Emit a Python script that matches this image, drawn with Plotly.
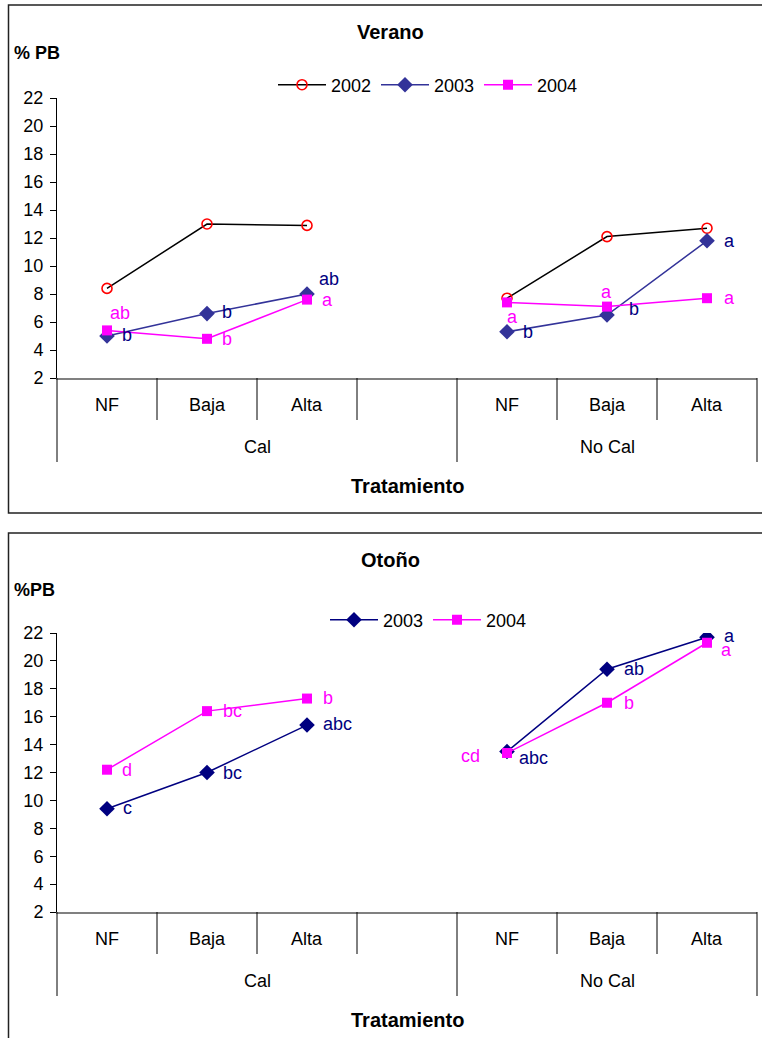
import plotly.graph_objects as go

# ---- data -------------------------------------------------------------
categories = ["NF", "Baja", "Alta", "", "NF", "Baja", "Alta"]
groups = ["Cal", "No Cal"]
group_spans = [(0, 4), (4, 7)]          # category slots covered by each group
y_ticks = [2, 4, 6, 8, 10, 12, 14, 16, 18, 20, 22]

verano_2002 = [8.4, 13.0, 12.9, None, 7.7, 12.1, 12.7]
verano_2003 = [5.0, 6.6, 8.0, None, 5.3, 6.5, 11.8]
verano_2004 = [5.4, 4.8, 7.6, None, 7.4, 7.1, 7.7]
verano_2003_letters = ["b", "b", "ab", None, "b", "b", "a"]
verano_2004_letters = ["ab", "b", "a", None, "a", "a", "a"]

otono_2003 = [9.4, 12.0, 15.4, None, 13.5, 19.4, 21.7]
otono_2004 = [12.2, 16.4, 17.3, None, 13.4, 17.0, 21.3]
otono_2003_letters = ["c", "bc", "abc", None, "abc", "ab", "a"]
otono_2004_letters = ["d", "bc", "b", None, "cd", "b", "a"]

# pixel offsets (dx, dy) of each letter from its marker
verano_2003_off = [(20, -1), (20, -2), (22, -15), None, (21, 0), (27, -6), (22, 0)]
verano_2004_off = [(13, -17), (20, 0), (20, 0), None, (5, 15), (-1, -15), (22, 0)]
otono_2003_off = [(20, -1), (25, 0), (30, -1), None, (26, 6), (27, 0), (22, -1)]
otono_2004_off = [(20, 0), (25, 0), (21, -1), None, (-37, 3), (22, 0), (19, 7)]

# ---- style ------------------------------------------------------------
W, H = 762, 1038
FONT = "Liberation Sans, Arial, sans-serif"
FS = 18
FS_TITLE = 20
NAVY = "#000080"
SLATE = "#333399"
MAGENTA = "#FF00FF"

# panel geometry in pixels
X_LEFT, X_RIGHT = 57, 757
TOP_Y0, TOP_Y1 = 98, 378
BOT_Y0, BOT_Y1 = 633, 912

x_pos = list(range(len(categories)))


def py(p):
    return 1 - p / H


fig = go.Figure()


def add_series(name, values, xa, ya, legend, color, marker, showlegend=True):
    fig.add_trace(go.Scatter(
        x=x_pos, y=values, name=name, mode="lines+markers",
        xaxis=xa, yaxis=ya, legend=legend, connectgaps=False,
        line=dict(color=color["line"], width=1.5),
        marker=marker, showlegend=showlegend, hoverinfo="skip",
    ))


circle = dict(symbol="circle-open", size=10, color="#FF0000",
              line=dict(color="#FF0000", width=1.6))
add_series("2002", verano_2002, "x", "y", "legend", {"line": "#000000"}, circle)
add_series("2003", verano_2003, "x", "y", "legend", {"line": SLATE},
           dict(symbol="diamond", size=12, color=SLATE))
add_series("2004", verano_2004, "x", "y", "legend", {"line": MAGENTA},
           dict(symbol="square", size=10, color=MAGENTA))

add_series("2003", otono_2003, "x2", "y2", "legend2", {"line": NAVY},
           dict(symbol="diamond", size=12, color=NAVY))
add_series("2004", otono_2004, "x2", "y2", "legend2", {"line": MAGENTA},
           dict(symbol="square", size=10, color=MAGENTA))

annotations = []
shapes = []


def letters(values, labels, offsets, color, xref, yref):
    for x, v, lab, off in zip(x_pos, values, labels, offsets):
        if lab is None:
            continue
        annotations.append(dict(
            x=x, y=v, xref=xref, yref=yref, text=lab, showarrow=False,
            xshift=off[0], yshift=-off[1], xanchor="center", yanchor="middle",
            font=dict(family=FONT, size=FS, color=color)))


letters(verano_2003, verano_2003_letters, verano_2003_off, NAVY, "x", "y")
letters(verano_2004, verano_2004_letters, verano_2004_off, MAGENTA, "x", "y")
letters(otono_2003, otono_2003_letters, otono_2003_off, NAVY, "x2", "y2")
letters(otono_2004, otono_2004_letters, otono_2004_off, MAGENTA, "x2", "y2")


def category_axis(xref, yref, plot_h, box_top, box_bottom, title, ylabel,
                  title_y, ylabel_y):
    n = len(categories)
    dom = lambda px: -px / plot_h
    # labels under each category slot
    for i, c in enumerate(categories):
        if c:
            annotations.append(dict(
                x=i, y=dom(27), xref=xref, yref=yref + " domain", text=c,
                showarrow=False, yanchor="middle",
                font=dict(family=FONT, size=FS, color="#000000")))
    # group labels and boundaries
    group_edges = set()
    for g, (a, b) in zip(groups, group_spans):
        annotations.append(dict(
            x=(a + b - 1) / 2, y=dom(69), xref=xref, yref=yref + " domain",
            text=g, showarrow=False, yanchor="middle",
            font=dict(family=FONT, size=FS, color="#000000")))
        group_edges.update([a, b])
    for k in range(n + 1):
        length = 84 if k in group_edges else 42
        shapes.append(dict(
            type="line", xref=xref + " domain", yref=yref + " domain",
            x0=k / n, x1=k / n, y0=0, y1=dom(length),
            line=dict(color="#000000", width=1)))
    annotations.append(dict(
        x=0.5, y=dom(108), xref=xref + " domain", yref=yref + " domain",
        text="<b>Tratamiento</b>", showarrow=False, yanchor="middle",
        font=dict(family=FONT, size=FS_TITLE, color="#000000")))
    annotations.append(dict(
        x=390 / W, y=py(title_y), xref="paper", yref="paper",
        text="<b>" + title + "</b>", showarrow=False, yanchor="middle",
        font=dict(family=FONT, size=FS_TITLE, color="#000000")))
    annotations.append(dict(
        x=12 / W, y=py(ylabel_y), xref="paper", yref="paper",
        text="<b>" + ylabel + "</b>", showarrow=False, xanchor="left",
        yanchor="middle", font=dict(family=FONT, size=FS, color="#000000")))
    shapes.append(dict(
        type="rect", xref="paper", yref="paper",
        x0=8.5 / W, x1=1.05, y0=py(box_bottom), y1=py(box_top),
        line=dict(color="#222222", width=1.5), fillcolor="rgba(0,0,0,0)"))


category_axis("x", "y", TOP_Y1 - TOP_Y0, 5, 513, "Verano", "% PB", 32, 53)
category_axis("x2", "y2", BOT_Y1 - BOT_Y0, 533, 1045, "Otoño", "%PB", 560, 590)

xaxis_style = dict(range=[-0.5, len(categories) - 0.5], showgrid=False,
                   zeroline=False, showticklabels=False, ticks="",
                   showline=True, linecolor="#808080", linewidth=1.5,
                   domain=[X_LEFT / W, X_RIGHT / W], fixedrange=True)
yaxis_style = dict(range=[2, 22], tickvals=y_ticks, showgrid=False,
                   zeroline=False, showline=True, linecolor="#000000",
                   linewidth=1, ticks="outside", ticklen=6,
                   tickcolor="#000000", tickwidth=1, ticklabelstandoff=3,
                   tickfont=dict(family=FONT, size=FS, color="#000000"),
                   fixedrange=True)

legend_style = dict(orientation="h", xanchor="left", yanchor="middle",
                    bgcolor="rgba(0,0,0,0)", borderwidth=0,
                    itemwidth=48, entrywidth=40, entrywidthmode="pixels",
                    font=dict(family=FONT, size=FS, color="#000000"),
                    itemclick=False, itemdoubleclick=False)

fig.update_layout(
    width=W, height=H,
    margin=dict(l=0, r=0, t=0, b=0, pad=0, autoexpand=False),
    paper_bgcolor="#FFFFFF", plot_bgcolor="#FFFFFF",
    xaxis=dict(xaxis_style, anchor="y"),
    yaxis=dict(yaxis_style, anchor="x", domain=[py(TOP_Y1), py(TOP_Y0)]),
    xaxis2=dict(xaxis_style, anchor="y2"),
    yaxis2=dict(yaxis_style, anchor="x2", domain=[py(BOT_Y1), py(BOT_Y0)]),
    legend=dict(legend_style, x=273 / W, y=py(85)),
    legend2=dict(legend_style, x=325 / W, y=py(620)),
    annotations=annotations, shapes=shapes, showlegend=True,
)

fig.write_html("out.html")
